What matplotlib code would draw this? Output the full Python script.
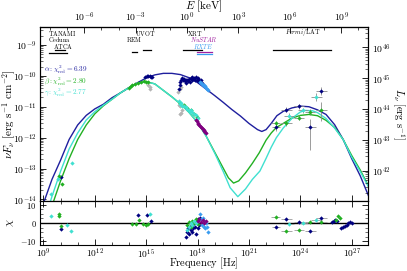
import numpy as np
import matplotlib
matplotlib.use("Agg")
import matplotlib.pyplot as plt
from matplotlib.ticker import FuncFormatter, FixedLocator, NullFormatter, MultipleLocator, LogLocator
import matplotlib.transforms as mtransforms

plt.rcParams['mathtext.fontset'] = 'cm'
plt.rcParams['font.family'] = ['DejaVu Serif']

# ---------------- model curves (log10 nu [Hz], log10 nuFnu) ----------------
alpha_lognu = [8.8, 9.0, 9.5, 10.0, 10.5, 11.0, 11.5, 12.0, 12.5, 13.0, 13.5, 14.0, 14.5, 15.0, 15.5,
               16.0, 16.5, 17.0, 17.5, 18.0, 18.5, 19.0, 19.5, 20.0, 20.5, 21.0, 21.5, 21.75, 22.0,
               22.3, 22.63, 23.0, 23.5, 24.0, 24.5, 25.0, 25.5, 26.0, 26.5, 27.0, 27.5, 28.0]
alpha_logF = [-14.48, -14.13, -13.35, -12.73, -12.06, -11.59, -11.28, -11.07, -10.92, -10.71, -10.55,
              -10.38, -10.22, -10.07, -9.97, -9.92, -9.92, -9.96, -10.06, -10.22, -10.43, -10.64,
              -10.86, -11.09, -11.30, -11.54, -11.74, -11.80, -11.74, -11.54, -11.29, -11.15, -11.04,
              -10.98, -11.00, -11.10, -11.25, -11.58, -12.06, -12.68, -13.24, -13.91]

beta_lognu = [9.2, 9.5, 10.0, 10.5, 11.0, 11.5, 12.0, 12.5, 13.0, 13.5, 14.0, 14.5, 15.0, 15.5, 16.0,
              16.5, 17.0, 17.5, 18.0, 18.5, 19.0, 19.5, 19.8, 20.1, 20.4, 20.8, 21.2, 21.6, 22.0,
              22.3, 22.6, 23.0, 23.5, 24.0, 24.5, 25.0, 25.5, 26.0, 26.5, 27.0, 27.5, 28.0]
beta_logF = [-14.78, -14.21, -13.40, -12.68, -12.06, -11.59, -11.23, -10.97, -10.76, -10.55, -10.38,
             -10.24, -10.19, -10.26, -10.47, -10.68, -10.91, -11.18, -11.51, -11.95, -12.47, -12.99,
             -13.30, -13.47, -13.40, -13.14, -12.83, -12.49, -12.08, -11.85, -11.67, -11.54, -11.37,
             -11.28, -11.25, -11.29, -11.44, -11.67, -12.06, -12.58, -13.05, -13.59]

gamma_lognu = [9.0, 9.5, 10.0, 10.5, 11.0, 11.5, 12.0, 12.5, 13.0, 13.5, 14.0, 14.5, 15.0, 15.5, 16.0,
               16.5, 17.0, 17.5, 18.0, 18.5, 19.0, 19.5, 19.9, 20.35, 20.8, 21.2, 21.64, 22.0, 22.3,
               22.6, 23.0, 23.5, 24.0, 24.3, 24.7, 25.0, 25.5, 26.0, 26.5, 27.0, 27.5, 28.0]
gamma_logF = [-14.78, -13.90, -13.09, -12.37, -11.85, -11.43, -11.16, -10.95, -10.76, -10.55, -10.38,
              -10.24, -10.19, -10.26, -10.47, -10.68, -10.91, -11.18, -11.51, -11.95, -12.50, -13.10,
              -13.62, -13.91, -13.66, -13.35, -13.08, -12.67, -12.31, -12.00, -11.69, -11.38, -11.17,
              -11.12, -11.13, -11.19, -11.38, -11.69, -12.06, -12.63, -13.10, -13.61]

# ---------------- data points (log10 nu, log10 nuFnu) ----------------
alpha_data_lognu = [10.0, 14.95, 15.05, 15.12, 15.2, 15.28, 15.35,
                    16.9, 16.95, 17.0, 17.05, 17.1, 17.15, 17.2, 17.25, 17.3, 17.35, 17.4, 17.45, 17.5,
                    17.55, 17.6, 17.65, 17.7, 17.75, 17.8, 17.85, 17.9, 17.95, 18.0, 18.05, 18.1, 18.15,
                    18.2, 18.25]
alpha_data_logF = [-13.26, -10.04, -10.00, -10.02, -9.99, -10.03, -10.05,
                   -10.42, -10.30, -10.20, -10.12, -10.08, -10.15, -10.10, -10.18, -10.12, -10.22,
                   -10.14, -10.17, -10.11, -10.20, -10.07, -10.14, -10.03, -10.10, -10.07, -10.12,
                   -10.05, -10.14, -10.08, -10.17, -10.12, -10.20, -10.15, -10.23]

rxte_lognu = [18.15, 18.2, 18.25, 18.3, 18.35, 18.4, 18.45, 18.5, 18.55, 18.62]
rxte_logF = [-10.20, -10.24, -10.26, -10.30, -10.31, -10.34, -10.33, -10.38, -10.41, -10.47]

beta_data_lognu = [9.9, 10.08, 14.0, 14.1, 14.2, 14.35, 14.5, 14.7, 14.85, 15.0, 15.1,
                   17.0, 17.2, 17.4, 17.6, 17.8, 17.95]
beta_data_logF = [-13.23, -13.50, -10.38, -10.34, -10.31, -10.27, -10.24, -10.21, -10.18, -10.19,
                  -10.21, -10.87, -10.95, -11.05, -11.12, -11.23, -11.33]

gamma_data_lognu = [9.45, 9.87, 10.67, 16.9, 17.0, 17.05, 17.1, 17.2, 17.3, 17.4, 17.5, 17.55, 17.6,
                    17.7, 17.8, 17.9, 18.0]
gamma_data_logF = [-13.81, -13.34, -12.82, -10.82, -10.92, -10.87, -10.97, -10.99, -11.02, -11.07,
                   -11.09, -11.17, -11.12, -11.18, -11.23, -11.28, -11.36]

nustar_lognu = [17.9, 17.95, 18.0, 18.05, 18.1, 18.15, 18.2, 18.25, 18.3, 18.35, 18.4, 18.45, 18.5]
nustar_logF = [-11.42, -11.47, -11.52, -11.55, -11.59, -11.62, -11.65, -11.69, -11.72, -11.75,
               -11.79, -11.82, -11.85]

grey_lognu = [15.1, 15.2, 15.25, 16.85, 16.95, 17.05, 16.9, 17.0, 17.1, 17.05, 16.95]
grey_logF = [-10.31, -10.36, -10.41, -10.52, -10.42, -10.37, -10.93, -10.98, -11.09, -11.19, -11.24]

# Fermi/LAT points: log nu, log nuFnu, x half-width (dex), y err low / high (dex)
lat_alpha_lognu = [22.57, 23.19, 23.91, 24.59, 25.23]
lat_alpha_logF = [-11.67, -11.10, -10.99, -11.64, -10.49]
lat_beta_lognu = [22.55, 23.19, 23.91, 24.55, 25.23]
lat_beta_logF = [-11.53, -11.54, -11.35, -11.18, -11.10]
lat_gamma_lognu = [23.33, 24.15, 24.94]
lat_gamma_logF = [-11.29, -11.12, -10.69]
lat_alpha_dx = [0.25, 0.3, 0.3, 0.3, 0.3]
lat_beta_dx = [0.25, 0.3, 0.3, 0.3, 0.3]
lat_gamma_dx = [0.3, 0.3, 0.3]
lat_alpha_dylo = [0.10, 0.08, 0.08, 0.75, 0.12]
lat_alpha_dyhi = [0.10, 0.08, 0.08, 0.25, 0.12]
lat_beta_dylo = [0.08, 0.08, 0.08, 0.10, 0.35]
lat_beta_dyhi = [0.08, 0.08, 0.08, 0.10, 0.25]
lat_gamma_dylo = [0.08, 0.08, 0.12]
lat_gamma_dyhi = [0.08, 0.08, 0.12]

# ---------------- residuals (log10 nu, chi) ----------------
res_alpha_lognu = [10.05, 14.5, 15.05, 15.27, 17.3, 17.4, 17.45, 17.5, 17.55, 17.6, 17.65, 17.7, 17.75,
                   17.8, 17.85, 17.9, 17.95, 18.0, 18.05, 18.1, 18.15,
                   25.85, 25.95, 26.05, 26.15, 26.4, 26.5, 26.6, 26.7, 26.8, 26.9, 27.0]
res_alpha_chi = [-3.1, 4.5, 4.2, 1.2, -7.5, -5.0, -3.0, -6.0, -2.0, -4.0, -1.0, -5.0, -3.0,
                 0.0, -2.0, -6.0, 1.0, -3.0, 2.0, -1.0, 3.0,
                 0.8, 1.0, 1.5, 1.2, -2.5, -2.0, -1.5, -1.0, 0.0, 0.5, 0.2]
res_beta_lognu = [9.89, 9.93, 10.03, 14.2, 14.4, 14.6, 14.8, 15.0, 15.1,
                  17.4, 17.5, 17.6, 17.7, 17.8, 17.9, 18.0, 26.1, 26.2, 26.3]
res_beta_chi = [4.0, 5.0, -1.5, -0.5, -0.8, 1.8, -0.5, -1.2, -0.8,
                -1.0, 0.5, -2.0, 1.0, 0.0, 2.0, -0.5, 1.5, 4.0, 2.5]
res_gamma_lognu = [9.45, 10.38, 10.63, 15.2, 17.4, 17.5, 17.6, 17.7, 17.8, 17.9]
res_gamma_chi = [4.1, -1.0, -4.2, 5.0, -4.0, -2.0, 0.0, -1.0, 1.0, 0.0]
res_rxte_lognu = [18.15, 18.2, 18.25, 18.3, 18.35, 18.4, 18.45, 18.5, 18.55, 18.62]
res_rxte_chi = [5.0, 2.0, -1.0, 3.0, -2.0, 1.0, -3.0, 0.0, -2.0, -5.0]
res_nustar_lognu = [18.0, 18.1, 18.2, 18.3, 18.4, 18.5]
res_nustar_chi = [1.0, 2.0, 0.5, 1.5, 0.0, 1.0]
# Fermi/LAT residuals (same bins as above)
res_lat_alpha_chi = [-2.4, 2.3, 0.5, -4.4, 2.7]
res_lat_beta_chi = [3.6, -4.6, -3.7, 0.5, 0.7]
res_lat_gamma_chi = [-0.4, 0.0, 1.4]

chi2_labels = [r"$\alpha:\chi^2_{\rm red}=6.39$", r"$\beta:\chi^2_{\rm red}=2.80$",
               r"$\gamma:\chi^2_{\rm red}=2.77$"]

C_A = '#1f1f9e'
C_B = '#22b022'
C_G = '#40e0d0'
C_AD = '#00007f'
C_RX = '#3a9cf0'
C_NU = '#800080'
C_GR = '#b4b4b4'

fig = plt.figure(figsize=(4.07, 2.71), dpi=100)
L, R = 40 / 407, 368 / 407
ax = fig.add_axes([L, 1 - 201 / 271, R - L, (201 - 27) / 271])
axr = fig.add_axes([L, 1 - 245 / 271, R - L, (245 - 201) / 271], sharex=ax)

def p(a):
    return 10.0 ** np.asarray(a, dtype=float)

ax.set_xscale('log')
ax.set_yscale('log')
ax.set_xlim(10 ** 8.8, 10 ** 27.95)
ax.set_ylim(10 ** -14.05, 10 ** -8.42)

ax.plot(p(alpha_lognu), p(alpha_logF), color=C_A, lw=1.0, zorder=3)
ax.plot(p(beta_lognu), p(beta_logF), color=C_B, lw=1.0, zorder=3)
ax.plot(p(gamma_lognu), p(gamma_logF), color=C_G, lw=1.0, zorder=3)

ms = 2.2
ax.plot(p(grey_lognu), p(grey_logF), 'D', color=C_GR, ms=ms, mew=0, zorder=2)
ax.plot(p(alpha_data_lognu), p(alpha_data_logF), 'D', color=C_AD, ms=ms, mew=0, zorder=4)
ax.plot(p(rxte_lognu), p(rxte_logF), 'D', color=C_RX, ms=ms, mew=0, zorder=4)
ax.plot(p(beta_data_lognu), p(beta_data_logF), 'D', color=C_B, ms=ms, mew=0, zorder=4)
ax.plot(p(gamma_data_lognu), p(gamma_data_logF), 'D', color=C_G, ms=ms, mew=0, zorder=4)
ax.plot(p(nustar_lognu), p(nustar_logF), 'D', color=C_NU, ms=ms, mew=0, zorder=4)

def xerrs(x, dx):
    dx = np.asarray(dx)
    return [x * (1 - 10 ** -dx), x * (10 ** dx - 1)]

def lat(lognu, logF, dx, dylo, dyhi, col):
    x = p(lognu); y = p(logF)
    dylo = np.asarray(dylo); dyhi = np.asarray(dyhi)
    yerr = [y * (1 - 10 ** -dylo), y * (10 ** dyhi - 1)]
    ax.errorbar(x, y, xerr=xerrs(x, dx), yerr=yerr, fmt='D', color=col, ms=ms, mew=0,
                ecolor='#8c8c8c', elinewidth=0.6, capsize=0, zorder=4)

lat(lat_alpha_lognu, lat_alpha_logF, lat_alpha_dx, lat_alpha_dylo, lat_alpha_dyhi, C_AD)
lat(lat_beta_lognu, lat_beta_logF, lat_beta_dx, lat_beta_dylo, lat_beta_dyhi, C_B)
lat(lat_gamma_lognu, lat_gamma_logF, lat_gamma_dx, lat_gamma_dylo, lat_gamma_dyhi, C_G)

# residuals
axr.axhline(0, color='black', lw=1.0, zorder=1)
axr.plot(p(res_alpha_lognu), res_alpha_chi, 'D', color=C_AD, ms=ms, mew=0, zorder=3)
axr.plot(p(res_beta_lognu), res_beta_chi, 'D', color=C_B, ms=ms, mew=0, zorder=3)
axr.plot(p(res_gamma_lognu), res_gamma_chi, 'D', color=C_G, ms=ms, mew=0, zorder=3)
axr.plot(p(res_rxte_lognu), res_rxte_chi, 'D', color=C_RX, ms=ms, mew=0, zorder=3)
axr.plot(p(res_nustar_lognu), res_nustar_chi, 'D', color=C_NU, ms=ms, mew=0, zorder=3)
for ln, ch, dx, col in [(lat_alpha_lognu, res_lat_alpha_chi, lat_alpha_dx, C_AD),
                        (lat_beta_lognu, res_lat_beta_chi, lat_beta_dx, C_B),
                        (lat_gamma_lognu, res_lat_gamma_chi, lat_gamma_dx, C_G)]:
    x = p(ln)
    axr.errorbar(x, ch, xerr=xerrs(x, dx), fmt='D', color=col, ms=ms, mew=0,
                 ecolor='#9a9a9a', elinewidth=0.6, zorder=3)
axr.set_ylim(-12.2, 12.2)

# ticks
fmt_pow = FuncFormatter(lambda v, pos: r"$10^{%d}$" % int(round(np.log10(v))))
fs = 7
ax.xaxis.set_major_locator(FixedLocator(10.0 ** np.arange(9, 28, 3)))
ax.xaxis.set_minor_locator(FixedLocator(10.0 ** np.arange(8, 29)))
ax.xaxis.set_minor_formatter(NullFormatter())
ax.tick_params(axis='x', which='both', labelbottom=False, top=False, direction='in')
ax.tick_params(axis='x', which='major', length=4, width=0.6)
ax.tick_params(axis='x', which='minor', length=2.5, width=0.5)
ax.yaxis.set_major_locator(LogLocator(base=10, numticks=20))
ax.yaxis.set_minor_locator(LogLocator(base=10, subs=np.arange(2, 10), numticks=20))
ax.yaxis.set_major_formatter(fmt_pow)
ax.yaxis.set_minor_formatter(NullFormatter())
ax.tick_params(axis='y', which='both', direction='in', labelsize=fs, right=False, pad=2.5)
ax.tick_params(axis='y', which='major', length=4, width=0.6)
ax.tick_params(axis='y', which='minor', length=2, width=0.4)

# right axis (luminosity)
LFAC = 10 ** 55.08
ax2 = ax.twinx()
ax2.set_yscale('log')
ax2.set_ylim(ax.get_ylim()[0] * LFAC, ax.get_ylim()[1] * LFAC)
ax2.yaxis.set_major_locator(LogLocator(base=10, numticks=20))
ax2.yaxis.set_minor_locator(LogLocator(base=10, subs=np.arange(2, 10), numticks=20))
ax2.yaxis.set_major_formatter(fmt_pow)
ax2.yaxis.set_minor_formatter(NullFormatter())
ax2.tick_params(axis='y', which='both', direction='in', labelsize=fs, pad=3)
ax2.tick_params(axis='y', which='major', length=4, width=0.6)
ax2.tick_params(axis='y', which='minor', length=2, width=0.4)
ax2.set_ylabel(r"$L_\nu\ [\mathrm{erg\ s^{-1}}]$", fontsize=7.5, rotation=270, va='center')
ax2.yaxis.set_label_coords((398.5 - 40) / 328, 0.5)

# top energy axis
HKEV = 2.418e17
sec = ax.secondary_xaxis('top', functions=(lambda nu: nu / HKEV, lambda E: E * HKEV))
sec.xaxis.set_major_locator(FixedLocator(10.0 ** np.arange(-6, 10, 3)))
sec.xaxis.set_minor_locator(FixedLocator(10.0 ** np.arange(-9, 12)))
sec.xaxis.set_major_formatter(fmt_pow)
sec.xaxis.set_minor_formatter(NullFormatter())
sec.tick_params(axis='x', which='both', direction='in', labelsize=fs, pad=2.5)
sec.tick_params(axis='x', which='major', length=4, width=0.6)
sec.tick_params(axis='x', which='minor', length=2.5, width=0.5)
fig.text(204 / 407, 1 - 6.5 / 271, r"$E\ [\mathrm{keV}]$", fontsize=8, ha='center', va='center')

ax.set_ylabel(r"$\nu F_\nu\ [\mathrm{erg\ s^{-1}\ cm^{-2}}]$", fontsize=8, va='center')
ax.yaxis.set_label_coords((9 - 40) / 328, 0.5)

axr.tick_params(axis='x', which='both', direction='in', top=True, labelsize=6.8, pad=1.5)
axr.tick_params(axis='x', which='major', length=4, width=0.6)
axr.tick_params(axis='x', which='minor', length=2.5, width=0.5)
axr.xaxis.set_major_formatter(fmt_pow)
axr.yaxis.set_major_locator(FixedLocator([-10, 0, 10]))
axr.yaxis.set_major_formatter(FuncFormatter(lambda v, pos: r"$%d$" % int(v)))
axr.yaxis.set_minor_locator(MultipleLocator(2.5))
axr.tick_params(axis='y', which='both', direction='in', right=True, labelsize=6.0, pad=2.5)
axr.tick_params(axis='y', which='major', length=4, width=0.6)
axr.tick_params(axis='y', which='minor', length=2, width=0.4)
fig.text(204 / 407, 1 - 263.5 / 271, r"$\mathrm{Frequency\ [Hz]}$", fontsize=7.5, ha='center', va='center')
axr.set_ylabel(r"$\chi$", fontsize=8, va='center')
axr.yaxis.set_label_coords((10 - 40) / 328, 0.5)

for a in (ax, axr, ax2):
    for s in a.spines.values():
        s.set_linewidth(0.8)

# instrument annotations
tr = mtransforms.blended_transform_factory(ax.transData, ax.transAxes)
def yf(ypx):
    return (201 - ypx) / 174.0
ifs = 4.5
ax.text(10 ** 9.29, yf(33), r"$\mathrm{TANAMI}$", transform=tr, fontsize=ifs, va='center', ha='left')
ax.text(10 ** 9.29, yf(40), r"$\mathrm{Ceduna}$", transform=tr, fontsize=ifs, va='center', ha='left')
ax.text(10 ** 9.58, yf(46.5), r"$\mathrm{ATCA}$", transform=tr, fontsize=ifs, va='center', ha='left')
ax.text(10 ** 14.36, yf(33), r"$\mathrm{UVOT}$", transform=tr, fontsize=ifs, va='center', ha='left')
ax.text(10 ** 13.83, yf(40), r"$\mathrm{REM}$", transform=tr, fontsize=ifs, va='center', ha='left')
ax.text(10 ** 17.39, yf(33), r"$\mathrm{XRT}$", transform=tr, fontsize=ifs, va='center', ha='left')
ax.text(10 ** 17.56, yf(40), r"$NuSTAR$", transform=tr, fontsize=ifs, va='center', ha='left', color='#a020a0')
ax.text(10 ** 17.72, yf(46.5), r"$RXTE$", transform=tr, fontsize=ifs, va='center', ha='left', color=C_RX)
ax.text(10 ** 23.09, yf(33), r"$Fermi\mathrm{/LAT}$", transform=tr, fontsize=ifs, va='center', ha='left')

inst_lines = [((9.7, 10.28), 49.5, 'black'), ((9.35, 10.4), 53, 'black'),
              ((14.18, 14.47), 52, 'black'), ((14.82, 15.29), 50, 'black'),
              ((17.15, 18.26), 50, 'black'), ((17.97, 18.84), 52, '#a020a0'),
              ((17.97, 18.84), 53.5, C_RX), ((22.4, 25.8), 50, 'black')]
for (a0, a1), ypx, col in inst_lines:
    ax.plot([10 ** a0, 10 ** a1], [yf(ypx), yf(ypx)], transform=tr, color=col, lw=0.9)

for i, (lab, col) in enumerate(zip(chi2_labels, [C_A, C_B, C_G])):
    ax.text(0.012, yf([70, 81, 92][i]), lab, transform=ax.transAxes, fontsize=5.2, color=col,
            va='center', ha='left')

fig.savefig('out.png', dpi=100)
